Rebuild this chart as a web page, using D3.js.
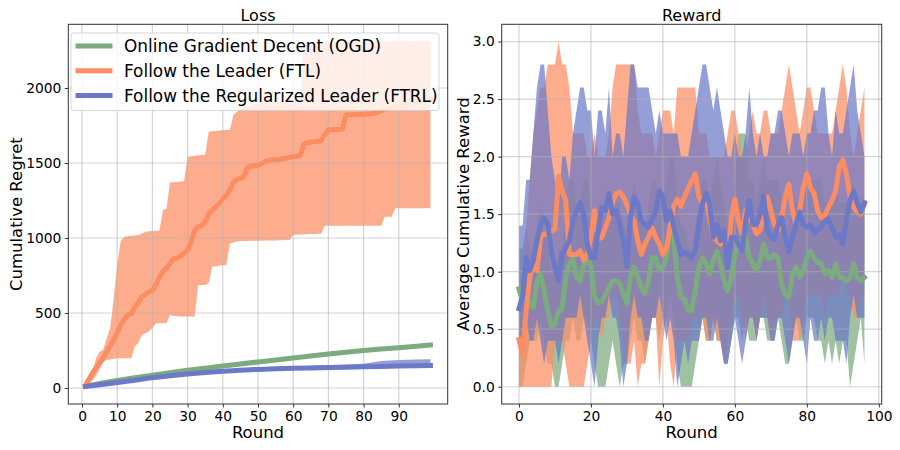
<!DOCTYPE html>
<html>
<head>
<meta charset="utf-8">
<script src="https://cdn.jsdelivr.net/npm/d3@7"></script>
<style>
  body { margin: 0; background: #fff; }
  svg { display: block; font-family: "DejaVu Sans", sans-serif; }
</style>
</head>
<body>
<svg id="chart" width="900" height="450"></svg>
<script>
// ---- data: Loss panel ----
const lossRounds = d3.range(1, 100); // rounds 1..99
const ftlLoss = [
  20, 60, 100, 135, 165, 200, 240, 280, 320, 370,
  420, 460, 487, 495, 540, 570, 609, 625, 640, 650,
  690, 740, 776, 800, 830, 864, 864, 880, 900, 920,
  975, 1050, 1076, 1085, 1110, 1160, 1185, 1205, 1230, 1260,
  1285, 1320, 1370, 1390, 1398, 1410, 1470, 1480, 1482, 1485,
  1495, 1510, 1518, 1520, 1522, 1524, 1528, 1532, 1538, 1542,
  1545, 1550, 1625, 1635, 1640, 1642, 1645, 1650, 1690, 1720,
  1722, 1723, 1724, 1726, 1820, 1822, 1823, 1823, 1824, 1825,
  1827, 1829, 1832, 1838, 1850, 1860, 1865, 1870, 1875, 1880,
  1885, 1890, 1895, 1900, 1905, 1910, 1915, 1920, 1925
];
const ftlLossHi = [
  20, 60, 110, 200, 242, 253, 330, 400, 600, 820,
  980, 1009, 1012, 1015, 1017, 1020, 1030, 1040, 1045, 1047,
  1048, 1050, 1187, 1195, 1370, 1372, 1374, 1376, 1378, 1542,
  1545, 1548, 1550, 1553, 1555, 1709, 1712, 1714, 1716, 1718,
  1720, 1720, 1820, 1840, 1860, 1870, 1880, 1890, 1895, 1900,
  1900, 1905, 1905, 1910, 1910, 1915, 1915, 1920, 1920, 1925,
  1925, 1930, 2295, 2297, 2298, 2299, 2300, 2301, 2302, 2303,
  2304, 2305, 2305, 2306, 2306, 2307, 2307, 2308, 2308, 2309,
  2309, 2310, 2310, 2311, 2311, 2312, 2312, 2313, 2313, 2313,
  2314, 2314, 2314, 2315, 2315, 2315, 2315, 2316, 2316
];
const ftlLossLo = [
  20, 30, 50, 80, 130, 175, 187, 190, 195, 198,
  198, 198, 198, 198, 276, 300, 353, 365, 376, 400,
  431, 431, 431, 431, 487, 480, 478, 476, 476, 476,
  476, 476, 687, 687, 687, 700, 809, 812, 815, 818,
  820, 964, 970, 976, 978, 980, 980, 981, 981, 982,
  982, 983, 983, 984, 984, 985, 985, 986, 987, 1020,
  1022, 1023, 1024, 1025, 1026, 1027, 1028, 1030, 1082, 1082,
  1082, 1082, 1082, 1082, 1082, 1082, 1082, 1082, 1082, 1082,
  1082, 1082, 1082, 1082, 1082, 1142, 1142, 1142, 1198, 1198,
  1198, 1198, 1198, 1198, 1198, 1198, 1198, 1198, 1198
];
const smoothRounds = [1, 5, 10, 15, 20, 25, 30, 35, 40, 45, 50, 55, 60, 65, 70, 75, 80, 85, 90, 95, 99];
const ogdLoss   = [12, 30, 50, 68, 85, 102, 118, 132, 146, 160, 174, 187, 200, 213, 226, 238, 250, 260, 269, 279, 287];
const ogdLossHi = [16, 35, 56, 74, 92, 109, 125, 139, 153, 167, 181, 194, 207, 220, 233, 245, 257, 267, 276, 286, 294];
const ogdLossLo = [8, 25, 44, 62, 78, 95, 111, 125, 139, 153, 167, 180, 193, 206, 219, 231, 243, 253, 262, 272, 280];
const ftrlLoss   = [10, 22, 36, 52, 69, 82, 93, 103, 112, 118, 124, 128, 131, 134, 136, 139, 142, 144, 146, 148, 149];
const ftrlLossHi = [14, 28, 42, 58, 76, 90, 102, 112, 122, 130, 136, 140, 144, 148, 152, 156, 162, 180, 186, 190, 192];
const ftrlLossLo = [6, 17, 30, 46, 62, 75, 86, 95, 104, 110, 115, 119, 122, 125, 127, 129, 131, 133, 134, 136, 137];

// ---- data: Reward panel ----
const rewardRounds = d3.range(0, 97); // rounds 0..96
const ogdReward = [
  0.85, 0.75, 0.81, 0.70, 0.69, 0.92, 0.98, 0.83, 0.66, 0.53,
  0.54, 0.66, 0.68, 0.95, 1.07, 1.11, 0.95, 0.92, 1.07, 1.10,
  1.05, 0.78, 0.73, 0.74, 0.80, 0.86, 0.92, 0.92, 0.90, 0.81,
  0.72, 0.95, 1.04, 0.95, 0.86, 0.81, 0.92, 1.12, 1.12, 1.01,
  1.04, 1.12, 1.39, 1.27, 0.95, 0.78, 0.76, 0.66, 0.66, 0.83,
  1.04, 1.12, 1.07, 0.98, 1.10, 1.18, 1.07, 0.92, 0.83, 0.95,
  1.15, 1.24, 1.27, 1.30, 1.12, 1.07, 1.01, 1.10, 1.24, 1.12,
  1.12, 1.15, 1.12, 0.89, 0.80, 0.78, 0.98, 1.04, 0.95, 1.01,
  1.12, 1.18, 1.12, 1.08, 1.07, 0.98, 1.01, 0.95, 1.07, 0.95,
  0.95, 0.92, 0.95, 1.07, 0.95, 0.92, 0.95
];
const ogdRewardHi = [
  1.2, 1.2, 1.4, 1.2, 1.2, 1.4, 1.6, 1.4, 1.2, 1.0,
  1.0, 1.2, 1.2, 1.6, 1.8, 1.8, 1.6, 1.6, 1.8, 1.8,
  1.6, 1.4, 1.4, 1.4, 1.6, 1.6, 1.6, 1.6, 1.6, 1.4,
  1.4, 1.6, 1.8, 1.6, 1.4, 1.4, 1.6, 1.8, 1.8, 1.6,
  1.6, 1.8, 2.0, 2.0, 1.6, 1.4, 1.4, 1.2, 1.2, 1.4,
  1.6, 1.8, 1.8, 1.6, 1.8, 2.0, 1.8, 1.6, 1.4, 1.6,
  1.8, 2.2, 2.2, 2.2, 1.8, 1.8, 1.6, 1.8, 2.0, 1.8,
  1.8, 1.8, 1.8, 1.6, 1.4, 1.4, 1.6, 1.6, 1.6, 1.6,
  1.8, 1.8, 1.8, 1.8, 1.8, 1.6, 1.6, 1.6, 1.8, 1.6,
  1.6, 1.6, 1.6, 1.8, 1.6, 1.6, 1.6
];
const ogdRewardLo = [
  0.0, 0.0, 0.2, 0.4, 0.4, 0.4, 0.6, 0.4, 0.2, 0.2,
  0.0, 0.0, 0.2, 0.4, 0.4, 0.6, 0.4, 0.4, 0.6, 0.6,
  0.4, 0.2, 0.0, 0.0, 0.0, 0.2, 0.4, 0.2, 0.0, 0.2,
  0.2, 0.4, 0.6, 0.4, 0.4, 0.2, 0.4, 0.6, 0.6, 0.4,
  0.6, 0.6, 0.8, 0.6, 0.2, 0.0, 0.0, 0.0, 0.0, 0.2,
  0.4, 0.6, 0.4, 0.4, 0.6, 0.4, 0.4, 0.2, 0.2, 0.4,
  0.6, 0.6, 0.4, 0.6, 0.4, 0.4, 0.4, 0.6, 0.6, 0.4,
  0.4, 0.4, 0.6, 0.4, 0.2, 0.2, 0.4, 0.6, 0.4, 0.4,
  0.6, 0.6, 0.6, 0.4, 0.4, 0.2, 0.4, 0.2, 0.4, 0.2,
  0.4, 0.4, 0.0, 0.2, 0.4, 0.6, 0.2
];
const ftlReward = [
  0.41, 0.28, 0.66, 0.95, 1.07, 1.01, 1.30, 1.33, 1.32, 1.35,
  1.37, 1.83, 1.70, 1.62, 1.15, 1.15, 1.15, 1.18, 1.10, 1.15,
  1.30, 1.53, 1.28, 1.30, 1.38, 1.47, 1.60, 1.68, 1.69, 1.65,
  1.58, 1.50, 1.44, 1.27, 1.15, 1.24, 1.30, 1.38, 1.30, 1.24,
  1.15, 1.21, 1.38, 1.57, 1.63, 1.57, 1.65, 1.72, 1.79, 1.85,
  1.65, 1.59, 1.62, 1.47, 1.30, 1.27, 1.24, 1.30, 1.12, 1.47,
  1.63, 1.44, 1.33, 1.53, 1.47, 1.41, 1.33, 1.36, 1.47, 1.65,
  1.53, 1.41, 1.36, 1.47, 1.65, 1.76, 1.53, 1.41, 1.53, 1.73,
  1.85, 1.73, 1.68, 1.53, 1.47, 1.49, 1.56, 1.62, 1.70, 1.91,
  1.97, 1.85, 1.65, 1.56, 1.52, 1.50, 1.59
];
const ftlRewardHi = [
  1.0, 0.8, 1.4, 1.8, 2.2, 2.4, 2.6, 2.6, 2.8, 2.8,
  2.8, 3.0, 2.8, 2.8, 2.6, 2.2, 2.2, 2.2, 2.2, 2.0,
  2.0, 2.2, 2.0, 2.0, 2.0, 2.2, 2.6, 2.8, 2.8, 2.8,
  2.8, 2.8, 2.8, 2.4, 2.2, 2.2, 2.2, 2.2, 2.0, 2.2,
  2.4, 2.4, 2.4, 2.2, 2.6, 2.6, 2.6, 2.6, 2.6, 2.6,
  2.2, 2.2, 2.2, 2.0, 2.0, 2.0, 2.0, 2.0, 2.2, 2.4,
  2.4, 2.2, 2.0, 2.0, 2.2, 2.4, 2.2, 2.2, 2.4, 2.4,
  2.2, 2.2, 2.2, 2.4, 2.6, 2.8, 2.6, 2.4, 2.2, 2.4,
  2.6, 2.6, 2.4, 2.2, 2.2, 2.2, 2.2, 2.2, 2.4, 2.6,
  2.8, 2.6, 2.2, 2.0, 2.2, 2.4, 2.6
];
const ftlRewardLo = [
  0.0, 0.0, 0.0, 0.0, 0.0, 0.0, 0.0, 0.0, 0.0, 0.0,
  0.4, 0.4, 0.4, 0.2, 0.0, 0.0, 0.0, 0.0, 0.0, 0.2,
  0.4, 0.6, 0.6, 0.4, 0.6, 0.6, 0.8, 0.8, 0.6, 0.4,
  0.2, 0.2, 0.4, 0.0, 0.2, 0.2, 0.4, 0.6, 0.6, 0.0,
  0.4, 0.6, 0.2, 0.0, 0.4, 0.4, 0.4, 0.4, 0.6, 0.6,
  0.6, 0.6, 0.4, 0.4, 0.6, 0.4, 0.4, 0.2, 0.4, 0.6,
  0.8, 0.8, 0.6, 0.4, 0.6, 0.6, 0.4, 0.6, 0.8, 0.6,
  0.4, 0.6, 0.6, 0.6, 0.8, 0.8, 0.4, 0.4, 0.4, 0.6,
  0.8, 0.8, 0.8, 0.8, 0.8, 0.6, 0.8, 0.8, 0.8, 0.8,
  1.0, 0.8, 0.8, 0.6, 0.6, 0.8, 0.8
];
const ftrlReward = [
  0.68, 0.78, 1.12, 1.01, 1.10, 1.27, 1.41, 1.47, 1.41, 1.18,
  1.04, 0.92, 1.15, 1.21, 1.27, 1.44, 1.53, 1.60, 1.50, 1.24,
  1.12, 1.12, 1.36, 1.56, 1.53, 1.68, 1.50, 1.53, 1.41, 1.27,
  1.05, 1.47, 1.65, 1.59, 1.44, 1.41, 1.39, 1.46, 1.52, 1.70,
  1.65, 1.44, 1.53, 1.39, 1.27, 1.15, 1.17, 1.15, 1.12, 1.18,
  1.41, 1.59, 1.68, 1.59, 1.30, 1.41, 1.27, 1.36, 1.04, 1.30,
  1.30, 1.24, 1.18, 1.44, 1.62, 1.41, 1.41, 1.50, 1.66, 1.36,
  1.30, 1.28, 1.41, 1.47, 1.30, 1.17, 1.30, 1.41, 1.52, 1.41,
  1.39, 1.41, 1.33, 1.37, 1.39, 1.44, 1.46, 1.38, 1.30, 1.32,
  1.24, 1.45, 1.62, 1.70, 1.60, 1.52, 1.60
];
const ftrlRewardHi = [
  1.4, 1.4, 1.8, 1.8, 2.2, 2.6, 2.8, 2.8, 2.4, 2.0,
  1.8, 1.6, 2.0, 2.0, 1.8, 2.2, 2.4, 2.6, 2.6, 2.4,
  2.4, 2.0, 2.4, 2.4, 2.2, 2.6, 2.0, 2.2, 2.2, 2.0,
  2.4, 2.8, 2.8, 2.6, 2.6, 2.6, 2.6, 2.4, 2.2, 2.4,
  2.2, 2.2, 2.2, 2.2, 2.2, 2.0, 2.0, 2.0, 2.2, 2.4,
  2.6, 2.8, 2.8, 2.6, 2.4, 2.6, 2.4, 2.2, 2.0, 2.0,
  2.2, 2.0, 2.0, 2.2, 2.6, 2.2, 2.0, 2.2, 2.0, 2.0,
  2.2, 2.2, 2.4, 2.4, 2.2, 2.0, 2.2, 2.2, 2.2, 2.0,
  2.2, 2.2, 2.4, 2.4, 2.6, 2.6, 2.2, 2.0, 2.4, 2.2,
  2.2, 2.4, 2.6, 2.8, 2.4, 2.2, 2.0
];
const ftrlRewardLo = [
  0.4, 0.4, 0.6, 0.4, 0.4, 0.6, 0.4, 0.2, 0.4, 0.4,
  0.4, 0.2, 0.4, 0.6, 0.6, 0.6, 0.6, 0.8, 0.6, 0.4,
  0.2, 0.0, 0.4, 0.6, 0.6, 0.8, 0.6, 0.6, 0.4, 0.0,
  0.2, 0.6, 0.8, 0.6, 0.6, 0.4, 0.4, 0.6, 0.6, 0.8,
  0.6, 0.4, 0.6, 0.4, 0.0, 0.2, 0.4, 0.2, 0.4, 0.4,
  0.4, 0.6, 0.6, 0.4, 0.4, 0.6, 0.4, 0.2, 0.2, 0.4,
  0.6, 0.4, 0.2, 0.4, 0.6, 0.6, 0.4, 0.6, 0.6, 0.6,
  0.4, 0.4, 0.6, 0.6, 0.4, 0.2, 0.4, 0.6, 0.6, 0.4,
  0.2, 0.6, 0.4, 0.4, 0.6, 0.4, 0.6, 0.6, 0.4, 0.4,
  0.4, 0.2, 0.6, 0.8, 0.6, 0.6, 0.6
];

// ticks
const lossXTicks = [0, 10, 20, 30, 40, 50, 60, 70, 80, 90];
const lossYTicks = [0, 500, 1000, 1500, 2000];
const rewardXTicks = [0, 20, 40, 60, 80, 100];
const rewardYTicks = [0.0, 0.5, 1.0, 1.5, 2.0, 2.5, 3.0];

const COLORS = { ogd: "#7bab7e", ftl: "#fc8d62", ftrl: "#6b79c8" };
const legendNames = [
  ["ogd", "Online Gradient Decent (OGD)"],
  ["ftl", "Follow the Leader (FTL)"],
  ["ftrl", "Follow the Regularized Leader (FTRL)"]
];

const BAND_OPACITY = 0.72;
const LINE_W = 5;

const svg = d3.select("#chart");

// draws one subplot; returns scales + layers
function makePanel(box, xDomain, yDomain, xTicks, yTicks, yFmt) {
  const x = d3.scaleLinear().domain(xDomain).range([box.x0, box.x1]);
  const y = d3.scaleLinear().domain(yDomain).range([box.y1, box.y0]);
  const g = svg.append("g");
  const bands = g.append("g");
  const grid = g.append("g");
  const lines = g.append("g");
  const frame = g.append("g");

  // grid sits above the bands but under the lines
  grid.selectAll(".gx").data(xTicks).join("line")
    .attr("x1", d => x(d)).attr("x2", d => x(d))
    .attr("y1", box.y0).attr("y2", box.y1);
  grid.selectAll(".gy").data(yTicks).join("line")
    .attr("y1", d => y(d)).attr("y2", d => y(d))
    .attr("x1", box.x0).attr("x2", box.x1);
  grid.selectAll("line")
    .attr("stroke", "#b0b0b0").attr("stroke-opacity", 0.55).attr("stroke-width", 1.2);

  frame.append("rect")
    .attr("x", box.x0).attr("y", box.y0)
    .attr("width", box.x1 - box.x0).attr("height", box.y1 - box.y0)
    .attr("fill", "none").attr("stroke", "#333").attr("stroke-width", 1);

  const xAxis = d3.axisBottom(x).tickValues(xTicks).tickSize(3.5).tickPadding(3.5).tickFormat(d3.format("d"));
  const yAxis = d3.axisLeft(y).tickValues(yTicks).tickSize(3.5).tickPadding(3.5).tickFormat(yFmt);
  [frame.append("g").attr("transform", `translate(0,${box.y1})`).call(xAxis),
   frame.append("g").attr("transform", `translate(${box.x0},0)`).call(yAxis)]
    .forEach(a => {
      a.select(".domain").remove();
      a.selectAll("line").attr("stroke", "#333");
      a.selectAll("text").attr("fill", "#000").style("font-size", "13.8px")
        .style("font-family", '"DejaVu Sans", sans-serif');
    });

  return { x, y, bands, lines, frame, box };
}

function addSeries(p, rounds, mean, lo, hi, key) {
  const area = d3.area()
    .x((d, i) => p.x(rounds[i]))
    .y0((d, i) => p.y(lo[i]))
    .y1((d, i) => p.y(hi[i]));
  p.bands.append("path").datum(mean)
    .attr("d", area)
    .attr("fill", COLORS[key]).attr("fill-opacity", BAND_OPACITY);
  const line = d3.line()
    .x((d, i) => p.x(rounds[i]))
    .y(d => p.y(d));
  p.lines.append("path").datum(mean)
    .attr("d", line)
    .attr("fill", "none").attr("stroke", COLORS[key])
    .attr("stroke-width", LINE_W)
    .attr("stroke-linejoin", "round").attr("stroke-linecap", "square");
}

function labels(p, title, xLabel, yLabel, yLabelX) {
  const cx = (p.box.x0 + p.box.x1) / 2;
  svg.append("text").attr("x", cx).attr("y", 20.5)
    .attr("text-anchor", "middle").style("font-size", "16px").text(title);
  svg.append("text").attr("x", cx).attr("y", 438)
    .attr("text-anchor", "middle").style("font-size", "16.5px").text(xLabel);
  svg.append("text")
    .attr("transform", `translate(${yLabelX},${(p.box.y0 + p.box.y1) / 2}) rotate(-90)`)
    .attr("text-anchor", "middle").style("font-size", "16.5px").text(yLabel);
}

// ---- Loss ----
const loss = makePanel({ x0: 68.3, x1: 447.7, y0: 24.3, y1: 404 },
  [-3.9, 103.9], [-106.7, 2424.7], lossXTicks, lossYTicks, d3.format("d"));
addSeries(loss, smoothRounds, ogdLoss, ogdLossLo, ogdLossHi, "ogd");
addSeries(loss, lossRounds, ftlLoss, ftlLossLo, ftlLossHi, "ftl");
addSeries(loss, smoothRounds, ftrlLoss, ftrlLossLo, ftrlLossHi, "ftrl");
labels(loss, "Loss", "Round", "Cumulative Regret", 21.5);

// legend
const lg = svg.append("g");
lg.append("rect").attr("x", 71).attr("y", 33).attr("width", 368).attr("height", 77.5)
  .attr("rx", 3).attr("fill", "#fff").attr("fill-opacity", 0.8)
  .attr("stroke", "#cccccc").attr("stroke-opacity", 0.8);
legendNames.forEach(([key, name], i) => {
  const yy = 46 + i * 24.8;
  lg.append("line").attr("x1", 75.5).attr("x2", 112.5).attr("y1", yy).attr("y2", yy)
    .attr("stroke", COLORS[key]).attr("stroke-width", LINE_W);
  lg.append("text").attr("x", 124).attr("y", yy + 6.2)
    .style("font-size", "16.9px").text(name);
});

// ---- Reward ----
const reward = makePanel({ x0: 501.7, x1: 881.7, y0: 24.3, y1: 404 },
  [-4.8, 100.8], [-0.15, 3.15], rewardXTicks, rewardYTicks, d3.format(".1f"));
addSeries(reward, rewardRounds, ogdReward, ogdRewardLo, ogdRewardHi, "ogd");
addSeries(reward, rewardRounds, ftlReward, ftlRewardLo, ftlRewardHi, "ftl");
addSeries(reward, rewardRounds, ftrlReward, ftrlRewardLo, ftrlRewardHi, "ftrl");
labels(reward, "Reward", "Round", "Average Cumulative Reward", 468.7);
</script>
</body>
</html>
